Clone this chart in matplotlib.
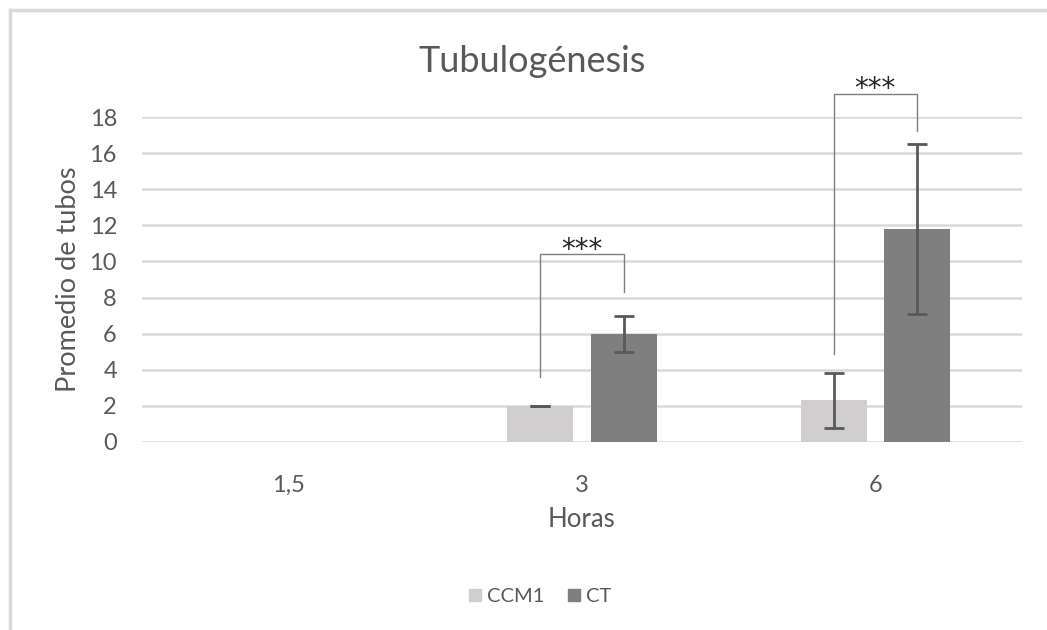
import matplotlib
matplotlib.use("Agg")
import matplotlib.pyplot as plt
from matplotlib.lines import Line2D
import numpy as np

# Datos de tubulogénesis por tiempo de incubación
horas = ["1,5", "3", "6"]
ccm1 = [0, 2.0, 2.3]
ccm1_err = [np.nan, 0.02, 1.54]
ct = [0, 6.0, 11.8]
ct_err = [np.nan, 1.0, 4.72]

# Corchetes de significancia: grupo, altura izquierda, superior y derecha
sig_grupo = [1, 2]
sig_izq = [3.6, 4.9]
sig_sup = [10.4, 19.3]
sig_der = [8.3, 17.2]
sig_texto = ["***", "***"]

plt.rcParams['font.family'] = ['Lato', 'DejaVu Sans']

col_ccm1 = "#d0cece"
col_ct = "#7f7f7f"
gris_texto = "#595959"

fig = plt.figure(figsize=(10.47, 6.30), dpi=100)
ax = fig.add_axes([142 / 1047, 188 / 630, 880 / 1047, 325 / 630])

x = np.arange(len(horas))
ancho = 0.225
desp = 0.1415

err_kw = dict(ecolor=gris_texto, elinewidth=2, capsize=7, capthick=2)
ax.bar(x - desp, ccm1, ancho, yerr=ccm1_err, color=col_ccm1, error_kw=err_kw, zorder=3)
ax.bar(x + desp, ct, ancho, yerr=ct_err, color=col_ct, error_kw=err_kw, zorder=3)

ax.set_xlim(-0.5, len(horas) - 0.5)
ax.set_ylim(0, 18)
ax.set_yticks(range(0, 19, 2))
ax.set_xticks(x)
ax.set_xticklabels(horas)
ax.yaxis.grid(True, color="#d9d9d9", linewidth=1.8, zorder=0)
ax.set_axisbelow(True)
for s in ax.spines.values():
    s.set_visible(False)
ax.tick_params(axis="both", length=0, labelsize=17, colors=gris_texto)
ax.tick_params(axis="y", pad=18)
ax.tick_params(axis="x", pad=24)

ax.set_xlabel("Horas", fontsize=18.5, color=gris_texto, labelpad=7.5)
ax.set_ylabel("Promedio de tubos", fontsize=19.5, color=gris_texto, labelpad=6)
fig.text(532 / 1047, 1 - 62 / 630, "Tubulogénesis", ha="center", va="center",
         fontsize=26, color=gris_texto)

# corchetes con asteriscos
for g, yi, ys, yd, t in zip(sig_grupo, sig_izq, sig_sup, sig_der, sig_texto):
    xi = g - desp
    xd = g + desp
    ax.plot([xi, xi, xd, xd], [yi, ys, ys, yd], color="#7f7f7f", linewidth=1,
            clip_on=False, zorder=4)
    ax.text(g, ys + 0.25, t, ha="center", va="center", fontsize=20,
            family="DejaVu Sans", color="#262626", clip_on=False)

# leyenda
handles = [Line2D([], [], marker="s", linestyle="none", markersize=9,
                  markerfacecolor=col_ccm1, markeredgecolor=col_ccm1),
           Line2D([], [], marker="s", linestyle="none", markersize=9,
                  markerfacecolor=col_ct, markeredgecolor=col_ct)]
fig.legend(handles, ["CCM1", "CT"], loc="center", bbox_to_anchor=(538 / 1047, 1 - 596 / 630),
           ncol=2, frameon=False, fontsize=14.5, labelcolor=gris_texto,
           handletextpad=0.1, columnspacing=1.0, handlelength=1.0)

# borde del área del gráfico
fig.add_artist(Line2D([9.5 / 1047, 9.5 / 1047], [0, 1 - 10 / 630], color="#d9d9d9", linewidth=2.5))
fig.add_artist(Line2D([9.5 / 1047, 1], [1 - 10 / 630, 1 - 10 / 630], color="#d9d9d9", linewidth=2.5))

fig.savefig("out.png", dpi=100)
